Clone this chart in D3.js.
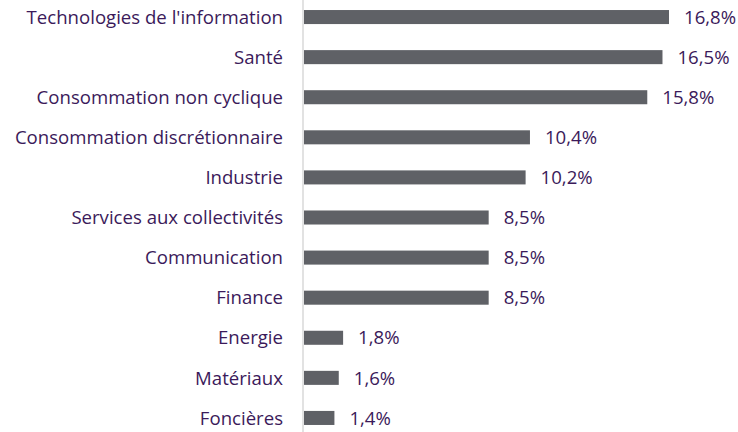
<!DOCTYPE html>
<html><head><meta charset="utf-8">
<script src="https://cdn.jsdelivr.net/npm/d3@7"></script>
<style>body{margin:0;background:#fff;}svg{display:block;}</style>
</head><body>
<script>
const categories = ["Technologies de l'information","Santé","Consommation non cyclique","Consommation discrétionnaire","Industrie","Services aux collectivités","Communication","Finance","Energie","Matériaux","Foncières"];
const values = [16.8,16.5,15.8,10.4,10.2,8.5,8.5,8.5,1.8,1.6,1.4];
const valueLabels = ["16,8%","16,5%","15,8%","10,4%","10,2%","8,5%","8,5%","8,5%","1,8%","1,6%","1,4%"];

const W = 738, H = 432;
const svg = d3.select("body").append("svg").attr("width", W).attr("height", H);
const x = d3.scaleLinear().domain([0, 16.8]).range([304, 669]);
const y = d3.scaleBand().domain(categories).range([-3, 438]).paddingInner(0.65).paddingOuter(0.325);

const textColor = "#3b1a5a";
const font = "'Open Sans', Lato, sans-serif";

svg.append("line").attr("x1", 303).attr("x2", 303).attr("y1", 0).attr("y2", H)
  .attr("stroke", "#d9d9d9").attr("stroke-width", 1.5);

svg.selectAll("rect.bar").data(values).join("rect").attr("class","bar")
  .attr("x", x(0)).attr("y", (d,i) => y(categories[i]))
  .attr("width", d => x(d) - x(0)).attr("height", y.bandwidth())
  .attr("fill", "#5f6166");

svg.selectAll("text.cat").data(categories).join("text").attr("class","cat")
  .attr("x", 283).attr("y", d => y(d) + y.bandwidth()/2).attr("dy", "0.36em")
  .attr("text-anchor", "end").attr("font-family", font).attr("font-size", 18.6)
  .attr("fill", textColor).text(d => d);

svg.selectAll("text.val").data(values).join("text").attr("class","val")
  .attr("x", d => x(d) + 15).attr("y", (d,i) => y(categories[i]) + y.bandwidth()/2).attr("dy", "0.36em")
  .attr("font-family", font).attr("font-size", 18.6)
  .attr("fill", textColor).text((d,i) => valueLabels[i]);
</script>
</body></html>
